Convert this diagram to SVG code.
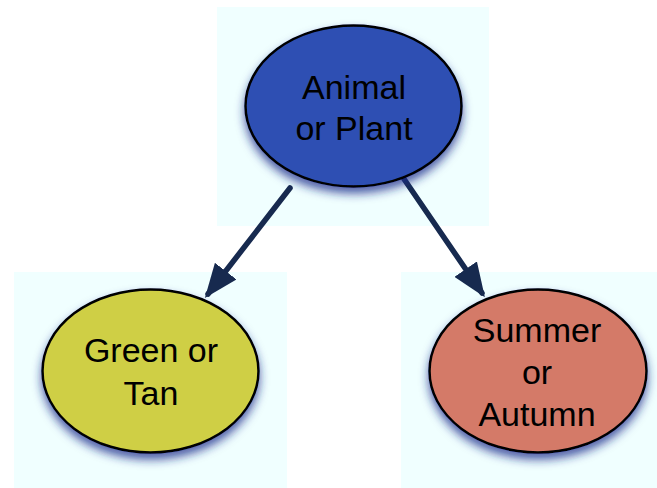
<svg xmlns="http://www.w3.org/2000/svg" width="657" height="488" viewBox="0 0 657 488">
<defs>
<filter id="sh" x="-30%" y="-30%" width="160%" height="170%">
<feGaussianBlur in="SourceAlpha" stdDeviation="5" result="b"/>
<feOffset in="b" dx="0" dy="6" result="o"/>
<feFlood flood-color="#1a2a8a" flood-opacity="0.75"/>
<feComposite in2="o" operator="in" result="s"/>
<feMerge><feMergeNode in="s"/><feMergeNode in="SourceGraphic"/></feMerge>
</filter>
<marker id="ah" viewBox="0 0 10 8" refX="8.5" refY="4" markerWidth="6.2" markerHeight="4.95" markerUnits="strokeWidth" orient="auto">
<path d="M0,0 L10,4 L0,8 z" fill="#172a4f"/>
</marker>
<style>
.bg{fill:#f0ffff}
.n{stroke:#000;stroke-width:2.5;filter:url(#sh)}
.t{font-family:"Liberation Sans",Arial,sans-serif;font-size:34px;fill:#000;text-anchor:middle}
.e{stroke:#172a4f;stroke-width:5.5;stroke-linecap:round;fill:none;marker-end:url(#ah)}
</style>
</defs>
<rect class="bg" x="217" y="7" width="272" height="219"/>
<rect class="bg" x="14" y="272" width="273" height="216"/>
<rect class="bg" x="401" y="272" width="256" height="216"/>
<g id="connectors">
<line class="e" x1="290" y1="188" x2="208" y2="294"/>
<line class="e" x1="404" y1="179" x2="482" y2="293"/>
</g>
<g id="animal">
<ellipse class="n" cx="353.5" cy="106" rx="108" ry="80.5" fill="#2d50b3"/>
<text class="t" x="354" y="99">Animal</text>
<text class="t" x="354" y="140">or Plant</text>
</g>
<g id="green">
<ellipse class="n" cx="150.5" cy="371" rx="108" ry="81.5" fill="#cfcf44"/>
<text class="t" x="151" y="362">Green or</text>
<text class="t" x="151" y="405">Tan</text>
</g>
<g id="summer">
<ellipse class="n" cx="538" cy="371" rx="108.5" ry="81.5" fill="#d47a68"/>
<text class="t" x="537" y="342">Summer</text>
<text class="t" x="537" y="384">or</text>
<text class="t" x="537" y="426">Autumn</text>
</g>
</svg>
